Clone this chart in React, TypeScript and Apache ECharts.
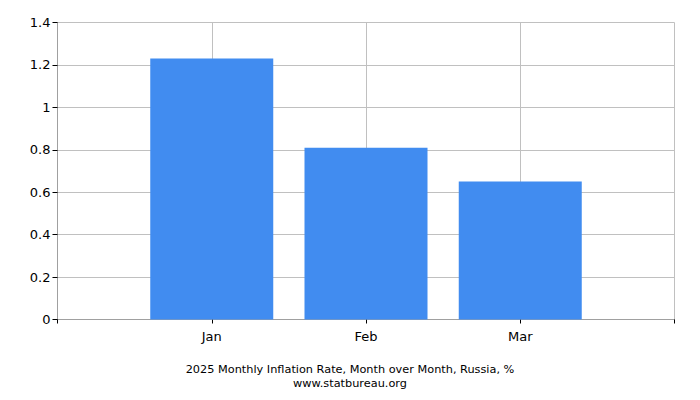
import * as echarts from "echarts";
import { useEffect, useRef } from "react";

const months = ["", "Jan", "Feb", "Mar", ""];
const monthSlots = [1, 2, 3];
const inflationValues = [1.23, 0.81, 0.65];
const yTicks = [0, 0.2, 0.4, 0.6, 0.8, 1, 1.2, 1.4];

const titleText = "2025 Monthly Inflation Rate, Month over Month, Russia, %";
const sourceText = "www.statbureau.org";

const barColor = "#418cf0";
const gridLineColor = "#c0c0c0";
const borderColor = "#a0a0a0";
const fontFamily = "DejaVu Sans";

export default function App() {
  const ref = useRef<HTMLDivElement | null>(null);

  useEffect(() => {
    if (!ref.current) return;
    const chart = echarts.init(ref.current, null, { renderer: "svg" });
    chart.setOption({
      animation: false,
      grid: { left: 57.5, right: 25.5, top: 22.5, bottom: 80.5, containLabel: false },
      xAxis: [
        {
          type: "value",
          min: 0,
          max: 4,
          interval: 1,
          axisLine: { show: true, onZero: false, lineStyle: { color: gridLineColor, width: 1 } },
          axisTick: { show: true, length: 4, lineStyle: { color: "#000" } },
          axisLabel: {
            color: "#000",
            fontFamily,
            fontSize: 13,
            margin: 10,
            formatter: (v: number) => months[v] ?? "",
          },
          splitLine: { show: true, lineStyle: { color: gridLineColor } },
        },
        {
          type: "value",
          position: "top",
          min: 0,
          max: 4,
          interval: 1,
          axisLine: { show: true, lineStyle: { color: borderColor } },
          axisTick: { show: false },
          axisLabel: { show: false },
          splitLine: { show: false },
        },
      ],
      yAxis: [
        {
          type: "value",
          min: 0,
          max: 1.4,
          interval: 0.2,
          axisLine: { show: true, lineStyle: { color: gridLineColor } },
          axisTick: { show: true, length: 5, lineStyle: { color: "#000" } },
          axisLabel: {
            color: "#000",
            fontFamily,
            fontSize: 13,
            margin: 7,
            formatter: (v: number) => {
              const t = yTicks.find((y) => Math.abs(y - v) < 1e-6);
              return t === undefined ? "" : String(Math.round(t * 10) / 10);
            },
          },
          splitLine: { show: true, lineStyle: { color: gridLineColor } },
        },
        {
          type: "value",
          position: "right",
          min: 0,
          max: 1.4,
          interval: 0.2,
          axisLine: { show: true, lineStyle: { color: borderColor } },
          axisTick: { show: false },
          axisLabel: { show: false },
          splitLine: { show: false },
        },
      ],
      series: [
        {
          type: "bar",
          xAxisIndex: 0,
          yAxisIndex: 0,
          barWidth: 123,
          itemStyle: { color: barColor },
          data: monthSlots.map((slot, i) => [slot, inflationValues[i]]),
        },
      ],
      graphic: [
        {
          type: "text",
          left: "center",
          top: 363.5,
          style: { text: titleText, fill: "#000", font: `11.3px ${fontFamily}` },
        },
        {
          type: "text",
          left: "center",
          top: 377.5,
          style: { text: sourceText, fill: "#000", font: `11.3px ${fontFamily}` },
        },
      ],
    });
    return () => chart.dispose();
  }, []);

  return <div ref={ref} style={{ position: "absolute", left: 0, top: 0, width: 700, height: 400 }} />;
}
